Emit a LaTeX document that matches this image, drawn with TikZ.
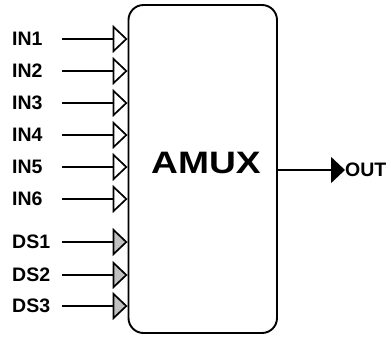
\documentclass[tikz,border=0pt]{standalone}
\usepackage{fontspec}
\setmainfont{Liberation Sans}
\usetikzlibrary{arrows.meta}
\definecolor{dsgray}{RGB}{192,192,192}
\tikzset{
  lbl/.style={anchor=west,inner sep=0pt,font=\fontsize{19.5}{23}\selectfont\bfseries},
  inarrow/.style={line width=1.3pt,-{Triangle[open,length=15pt,width=28pt,line width=1.7pt]}},
  dsarrow/.style={line width=1.3pt,-{Triangle[length=15pt,width=28pt,fill=dsgray,line width=1.7pt]}},
  outarrow/.style={line width=1.3pt,-{Triangle[length=14pt,width=26pt]}},
  muxbox/.style={draw,line width=1.9pt,rounded corners=15pt,minimum width=148.5pt,minimum height=328pt,inner sep=0pt}
}
\begin{document}
\begin{tikzpicture}[x=1pt,y=-1pt]
\useasboundingbox (0,0) rectangle (391,338);
\node[muxbox] (mux) at (202.75,169) {};
\node[inner sep=0pt,font=\fontsize{31}{34}\selectfont\bfseries,xscale=1.2] (amux) at (206,163) {AMUX};
\foreach \n/\y in {1/39,2/71,3/103,4/135,5/167,6/199}{
  \node[lbl] (l\n) at (12,\y) {IN\n};
  \coordinate (s\n) at (62,\y);
  \draw[inarrow] (s\n) -- (s\n -| mux.west);
}
\foreach \n/\y in {1/242,2/275,3/306}{
  \node[lbl] (d\n) at (12,\y) {DS\n};
  \coordinate (t\n) at (62,\y);
  \draw[dsarrow] (t\n) -- (t\n -| mux.west);
}
\coordinate (o) at (277,170);
\node[lbl] (out) at (345,170) {OUT};
\draw[outarrow] (o -| mux.east) -- (out.west);
\end{tikzpicture}
\end{document}
